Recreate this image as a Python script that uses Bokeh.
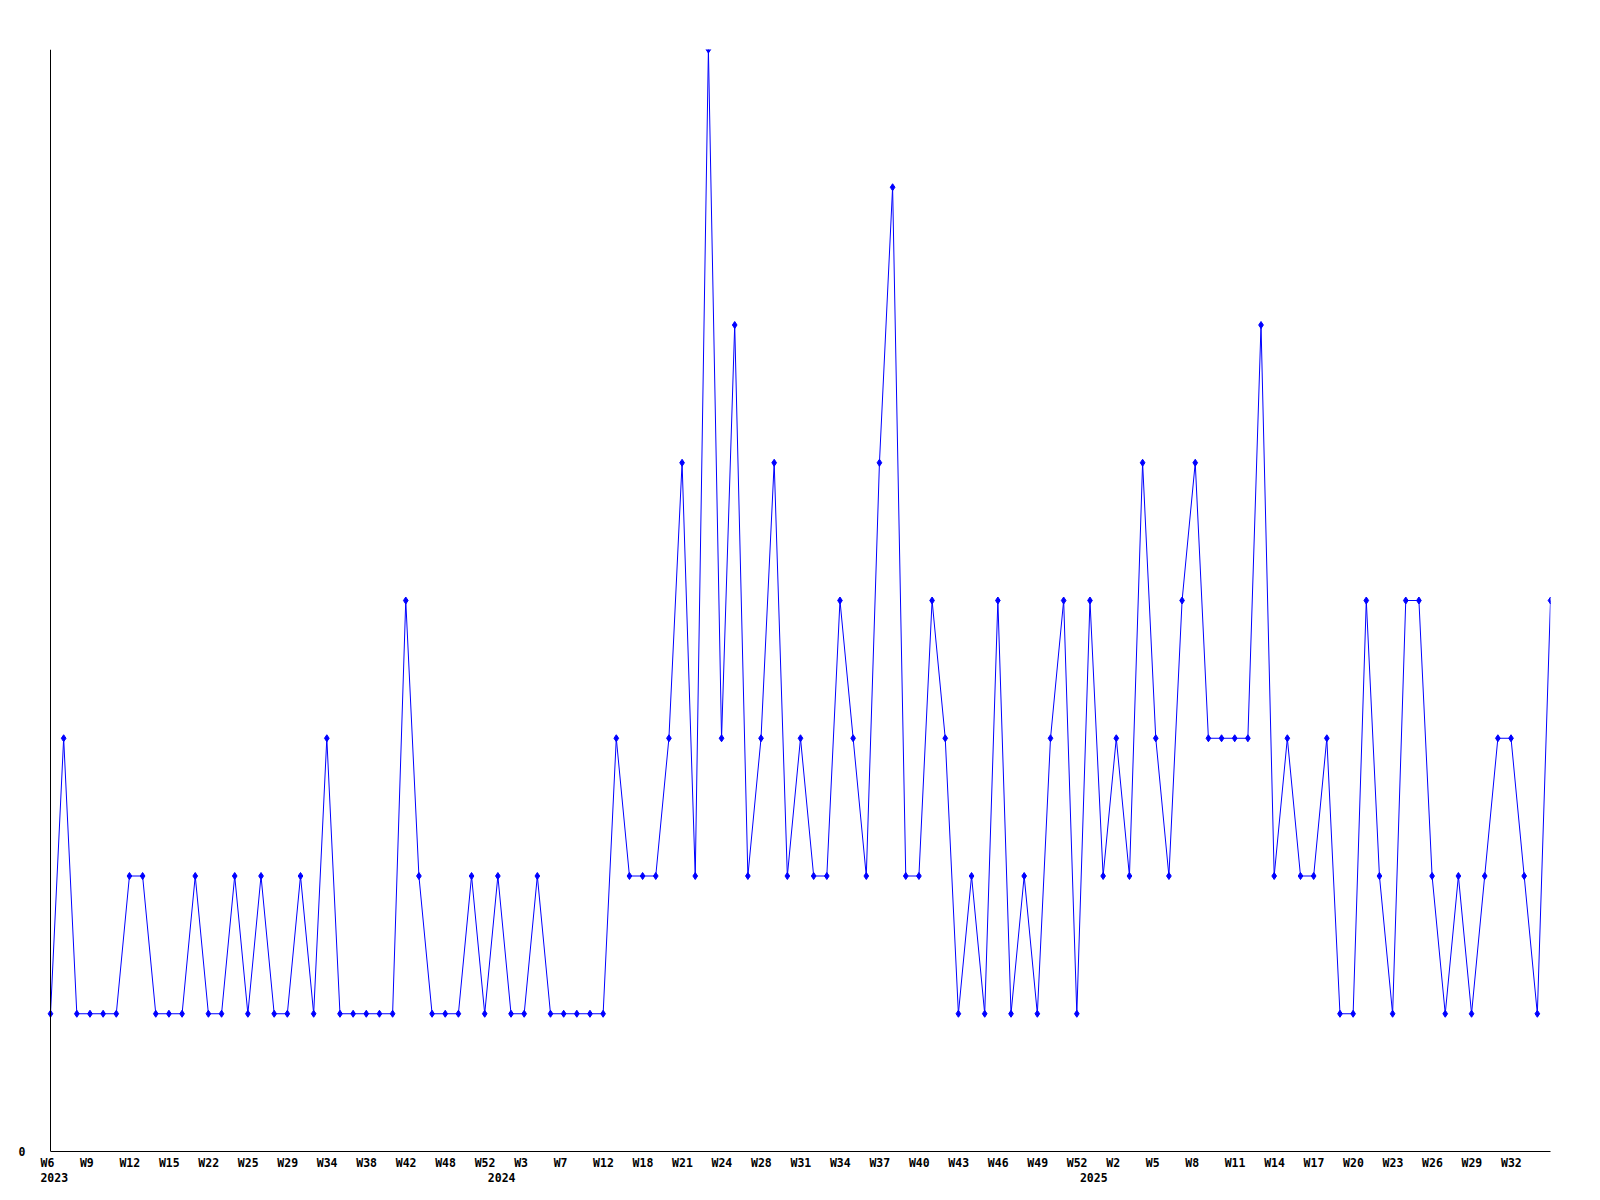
from bokeh.plotting import figure
from bokeh.models import Range1d, FixedTicker, LinearAxis, CustomJSTickFormatter, ColumnDataSource, Span
from bokeh.embed import file_html
from bokeh.resources import INLINE

# ---- data -------------------------------------------------------------
values = [
    1, 3, 1, 1, 1, 1, 2, 2, 1, 1, 1, 2, 1, 1, 2, 1, 2, 1, 1, 2,
    1, 3, 1, 1, 1, 1, 1, 4, 2, 1, 1, 1, 2, 1, 2, 1, 1, 2, 1, 1,
    1, 1, 1, 3, 2, 2, 2, 3, 5, 2, 8, 3, 6, 2, 3, 5, 2, 3, 2, 2,
    4, 3, 2, 5, 7, 2, 2, 4, 3, 1, 2, 1, 4, 1, 2, 1, 3, 4, 1, 4,
    2, 3, 2, 5, 3, 2, 4, 5, 3, 3, 3, 3, 6, 2, 3, 2, 2, 3, 1, 1,
    4, 2, 1, 4, 4, 2, 1, 2, 1, 2, 3, 3, 2, 1, 4,
]
week_labels = [
    "W6", "W9", "W12", "W15", "W22", "W25", "W29", "W34", "W38", "W42",
    "W48", "W52", "W3", "W7", "W12", "W18", "W21", "W24", "W28", "W31",
    "W34", "W37", "W40", "W43", "W46", "W49", "W52", "W2", "W5", "W8",
    "W11", "W14", "W17", "W20", "W23", "W26", "W29", "W32",
]
week_label_step = 3
year_labels = ["2023", "2024", "2025"]
year_first_point = [0, 34, 79]
y_max = 8

# ---- layout -----------------------------------------------------------
n = len(values)
data_w = 1500            # px between first and last point
label_px = 10            # labels start this far left of their point
char_px = 6.9            # advance of one label character
lead_px = 11             # frame starts this far left of the first point
px_per_pt = data_w / (n - 1)
lead = lead_px / px_per_pt


def label_tick(point, text):
    # Bokeh centres axis labels on the tick; place the tick so the text
    # starts label_px to the left of its point.
    return point + (-label_px + len(text) * char_px / 2) / px_per_pt


ML, MR, MT, MB = 39, 42, 49, 41
W = ML + data_w + lead_px + MR
H = MT + 1102 + MB

FONT = "DejaVu Sans Mono"

src = ColumnDataSource(dict(x=list(range(n)), y=values))

p = figure(width=W, height=H, output_backend="svg", toolbar_location=None,
           x_range=Range1d(-lead, n - 1), y_range=Range1d(0, y_max),
           x_axis_type=None, y_axis_type=None,
           min_border_left=ML, min_border_right=MR,
           min_border_top=MT, min_border_bottom=MB)
p.outline_line_color = None
p.background_fill_color = "white"
p.border_fill_color = "white"

# y axis line at the first point
p.add_layout(Span(location=0, dimension="height", line_color="black", line_width=1))

p.line("x", "y", source=src, line_color="#0000ff", line_width=1)
p.scatter("x", "y", source=src, marker="diamond", size=7,
          fill_color="#0000ff", line_color="#0000ff")


def style(ax, standoff):
    ax.major_tick_out = 0
    ax.major_tick_in = 0
    ax.minor_tick_out = 0
    ax.minor_tick_in = 0
    ax.major_label_standoff = standoff
    ax.major_label_text_font = FONT
    ax.major_label_text_font_style = "bold"
    ax.major_label_text_font_size = "11.5px"
    ax.major_label_text_color = "black"


# x axis line (no labels), from first to last point
ax_line = LinearAxis(ticker=FixedTicker(ticks=[]), bounds=(0, n - 1))
style(ax_line, 0)
ax_line.axis_line_color = "black"
ax_line.axis_line_width = 1
ax_line.major_label_text_font_size = "0px"
p.add_layout(ax_line, "below")

# week labels (one every week_label_step points)
wk_points = [i * week_label_step for i in range(len(week_labels))]
wk_ticks = [label_tick(pt, t) for pt, t in zip(wk_points, week_labels)]
ax_w = LinearAxis(
    ticker=FixedTicker(ticks=wk_ticks),
    formatter=CustomJSTickFormatter(
        args=dict(labels=week_labels, step=week_label_step),
        code="const i = Math.round(tick / step);"
             "return (i >= 0 && i < labels.length) ? labels[i] : '';"))
style(ax_w, 4)
ax_w.axis_line_color = None
p.add_layout(ax_w, "below")

# year labels
yr_ticks = [label_tick(pt, t) for pt, t in zip(year_first_point, year_labels)]
ax_y = LinearAxis(
    ticker=FixedTicker(ticks=yr_ticks),
    formatter=CustomJSTickFormatter(
        args=dict(labels=year_labels, starts=year_first_point),
        code="for (let i = 0; i < starts.length; i++) {"
             "  if (Math.abs(starts[i] - tick) < 1) return labels[i]; }"
             "return '';"))
style(ax_y, 0)
ax_y.axis_line_color = None
p.add_layout(ax_y, "below")

# y axis: only the 0 label
ax_left = LinearAxis(ticker=FixedTicker(ticks=[0]))
style(ax_left, 14)
ax_left.axis_line_color = None
p.add_layout(ax_left, "left")

open("out.html", "w").write(file_html(p, INLINE))
